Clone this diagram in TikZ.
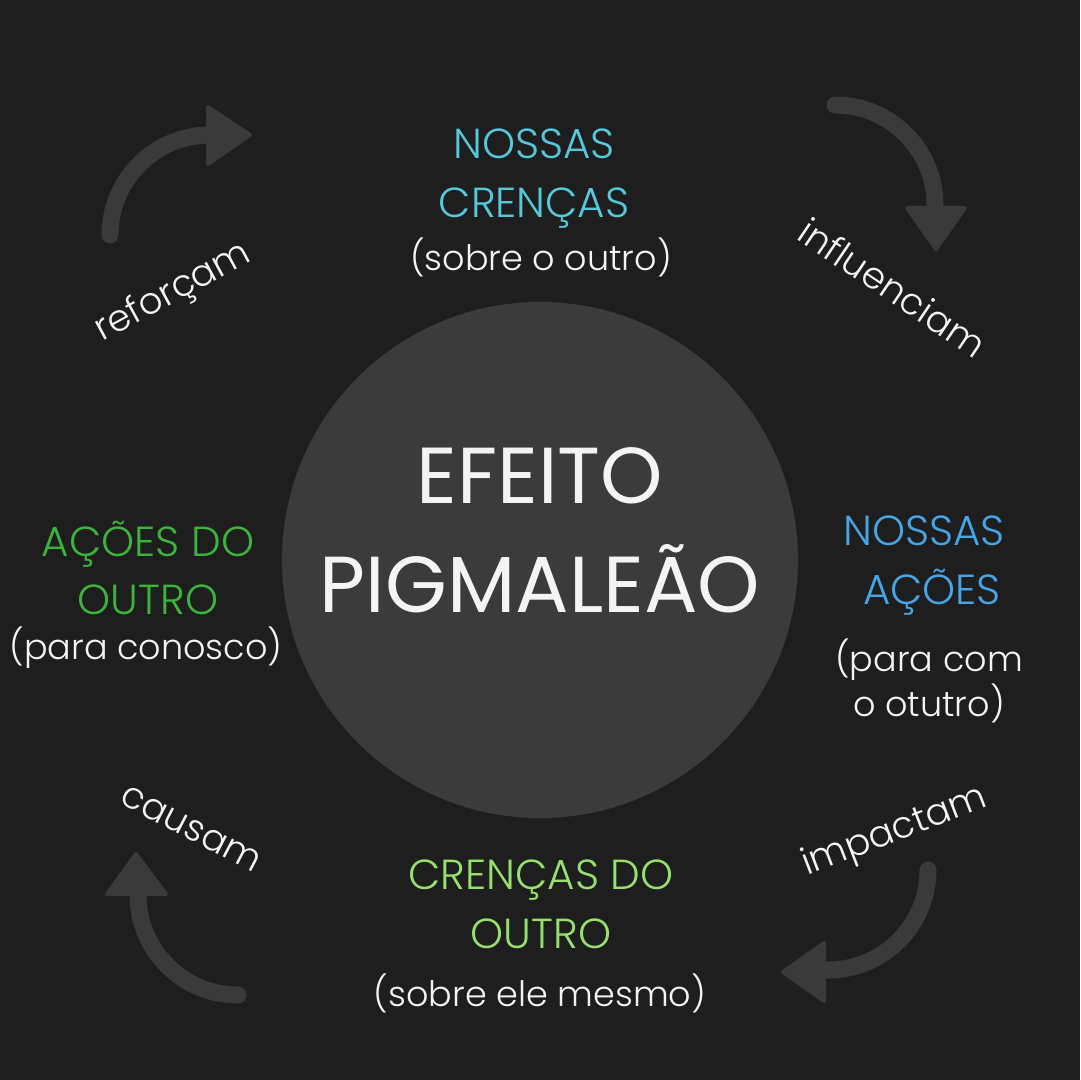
\documentclass[tikz,border=0pt]{standalone}
\usepackage{fontspec}
\setmainfont{Poppins}
\newfontfamily\plight{Poppins Light}
\newfontfamily\preg{Poppins}
\definecolor{bg}{HTML}{1E1E1E}
\definecolor{circ}{HTML}{3B3B3B}
\definecolor{arr}{HTML}{3A3A3A}
\definecolor{txt}{HTML}{F4F4F4}
\definecolor{cyanc}{HTML}{55C8DC}
\definecolor{bluec}{HTML}{46A5E6}
\definecolor{greenc}{HTML}{3CB43C}
\definecolor{lgreenc}{HTML}{96E16E}
\begin{document}
\begin{tikzpicture}[x=0.5pt,y=-0.5pt,
  lbl/.style={anchor=base, inner sep=0pt, text=txt, font=\plight\fontsize{17.5pt}{22pt}\selectfont},
  verb/.style={anchor=base, inner sep=0pt, text=txt, font=\plight\fontsize{18.5pt}{22pt}\selectfont},
  head/.style={anchor=base, inner sep=0pt, font=\plight\fontsize{21pt}{24pt}\selectfont},
  big/.style={anchor=base, inner sep=0pt, text=txt, font=\preg\fontsize{39.7pt}{44pt}\selectfont},
  arrowbody/.style={draw=arr, line width=8.5pt, line cap=round},
  arrowhead/.style={fill=arr, draw=arr, line width=2pt, line join=round}]
\fill[bg] (0,0) rectangle (1080,1080);
\fill[circ] (540,560) circle[radius=258];
% centre
\node[big] (ef) at (540,503) {EFEITO};
\node[big] (pg) at (540,612) {PIGMALEÃO};
% top
\node[head, text=cyanc] (t1) at (534,159) {NOSSAS};
\node[head, text=cyanc] (t2) at (534,218) {CRENÇAS};
\node[lbl] (t3) at (541,271) {(sobre o outro)};
% right
\node[head, text=bluec] (r1) at (924,545) {NOSSAS};
\node[head, text=bluec] (r2) at (932,604) {AÇÕES};
\node[lbl] (r3) at (929,671) {(para com};
\node[lbl] (r4) at (929,716) {o otutro)};
% bottom
\node[head, text=lgreenc] (b1) at (541,889) {CRENÇAS DO};
\node[head, text=lgreenc] (b2) at (541,948) {OUTRO};
\node[lbl] (b3) at (540,1006) {(sobre ele mesmo)};
% left
\node[head, text=greenc] (l1) at (148,556) {AÇÕES DO};
\node[head, text=greenc] (l2) at (148,614) {OUTRO};
\node[lbl] (l3) at (146,659) {(para conosco)};
% rotated verbs
\node[verb, rotate=28.5] (v1) at (178,301) {reforçam};
\node[verb, rotate=-34] (v2) at (885,299) {influenciam};
\node[verb, rotate=-27.5] (v3) at (186,838) {causam};
\node[verb, rotate=21] (v4) at (898,841) {impactam};
% arrows
\draw[arrowbody] (110,235) arc[start angle=180,end angle=270,radius=100] -- (212,135);
\filldraw[arrowhead] (208,107) -- (250,135) -- (208,164) -- cycle;
\draw[arrowbody] (835,105) arc[start angle=270,end angle=360,radius=100] -- (935,210);
\filldraw[arrowhead] (907,208) -- (936,249) -- (965,208) -- cycle;
\draw[arrowbody] (928,870) arc[start angle=0,end angle=90,radius=100] -- (823,970);
\filldraw[arrowhead] (824,943) -- (783,972) -- (824,1001) -- cycle;
\draw[arrowbody] (238,995) arc[start angle=90,end angle=180,radius=100] -- (138,890);
\filldraw[arrowhead] (107,894) -- (136,854) -- (166,894) -- cycle;
\end{tikzpicture}
\end{document}
